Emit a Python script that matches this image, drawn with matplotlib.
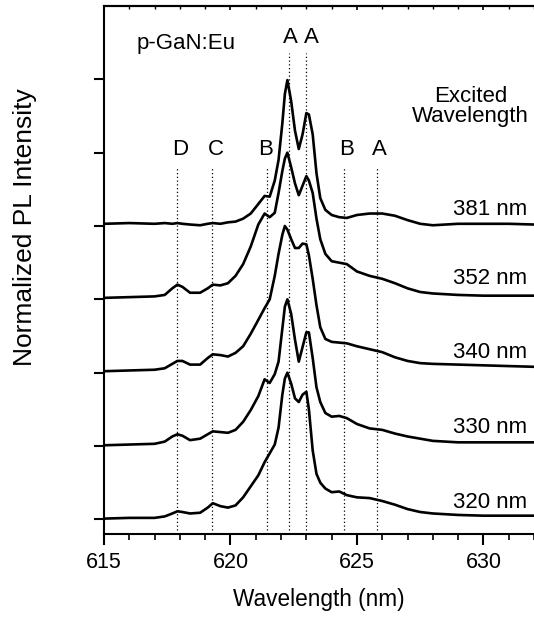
import matplotlib
matplotlib.use("Agg")
import matplotlib.pyplot as plt
from matplotlib.ticker import MultipleLocator

plt.rcParams['font.family'] = ['Liberation Sans', 'DejaVu Sans']

# Wavelength grid (nm)
wavelength = [615.0, 616.0, 617.0, 617.4, 617.7, 617.9, 618.1, 618.4, 618.8, 619.1,
              619.3, 619.6, 619.9, 620.2, 620.5, 620.8, 621.1, 621.35, 621.55, 621.75,
              621.9, 622.05, 622.15, 622.25, 622.4, 622.55, 622.7, 622.85, 623.0, 623.1,
              623.25, 623.4, 623.55, 623.75, 624.0, 624.3, 624.6, 625.0, 625.5, 626.0,
              626.5, 627.0, 627.5, 628.0, 629.0, 630.0, 631.0, 632.0]

# Normalized PL intensity (peak = 2) for each excitation wavelength
pl_320 = [0.01, 0.02, 0.02, 0.04, 0.08, 0.11, 0.10, 0.08, 0.09, 0.16,
          0.22, 0.18, 0.16, 0.19, 0.30, 0.45, 0.60, 0.78, 0.90, 1.02,
          1.25, 1.70, 1.92, 2.00, 1.85, 1.65, 1.60, 1.70, 1.74, 1.50,
          0.94, 0.62, 0.50, 0.42, 0.37, 0.38, 0.33, 0.30, 0.29, 0.25,
          0.20, 0.14, 0.10, 0.08, 0.06, 0.05, 0.05, 0.05]
pl_330 = [0.01, 0.02, 0.03, 0.06, 0.13, 0.16, 0.14, 0.08, 0.10, 0.16,
          0.20, 0.19, 0.18, 0.22, 0.33, 0.49, 0.68, 0.91, 0.86, 0.98,
          1.15, 1.60, 1.90, 2.00, 1.80, 1.45, 1.15, 1.35, 1.55, 1.55,
          1.20, 0.80, 0.60, 0.45, 0.40, 0.41, 0.38, 0.30, 0.24, 0.22,
          0.17, 0.13, 0.10, 0.07, 0.05, 0.05, 0.05, 0.05]
pl_340 = [0.02, 0.03, 0.04, 0.06, 0.12, 0.16, 0.16, 0.11, 0.11, 0.20,
          0.25, 0.24, 0.22, 0.27, 0.36, 0.53, 0.72, 0.88, 1.00, 1.32,
          1.62, 1.88, 2.00, 1.95, 1.82, 1.70, 1.70, 1.76, 1.75, 1.60,
          1.28, 0.92, 0.62, 0.46, 0.42, 0.41, 0.40, 0.36, 0.32, 0.28,
          0.21, 0.16, 0.13, 0.12, 0.11, 0.10, 0.09, 0.08]
pl_352 = [0.02, 0.03, 0.04, 0.06, 0.15, 0.20, 0.17, 0.09, 0.09, 0.15,
          0.20, 0.19, 0.22, 0.32, 0.48, 0.72, 1.02, 1.17, 1.12, 1.18,
          1.45, 1.75, 1.92, 2.00, 1.80, 1.58, 1.42, 1.55, 1.68, 1.62,
          1.45, 1.10, 0.82, 0.62, 0.52, 0.50, 0.48, 0.38, 0.32, 0.28,
          0.22, 0.15, 0.10, 0.08, 0.06, 0.05, 0.05, 0.05]
pl_381 = [0.03, 0.04, 0.03, 0.04, 0.03, 0.04, 0.03, 0.02, 0.01, 0.03,
          0.04, 0.03, 0.05, 0.06, 0.10, 0.17, 0.30, 0.41, 0.40, 0.62,
          0.90, 1.40, 1.80, 1.99, 1.70, 1.30, 1.05, 1.25, 1.54, 1.52,
          1.25, 0.72, 0.38, 0.22, 0.15, 0.12, 0.11, 0.15, 0.17, 0.17,
          0.14, 0.08, 0.03, 0.01, 0.03, 0.03, 0.03, 0.02]

spectra = [pl_320, pl_330, pl_340, pl_352, pl_381]
labels = ["320 nm", "330 nm", "340 nm", "352 nm", "381 nm"]
offsets = [0, 1, 2, 3, 4]
label_dy = [0.15, 0.18, 0.20, 0.21, 0.15]

# Peak markers
upper_marks = [622.3, 623.0]
upper_names = ["A", "A"]
upper_text_x = [622.35, 623.18]
lower_marks = [617.9, 619.25, 621.45, 624.5, 625.8]
lower_names = ["D", "C", "B", "B", "A"]
lower_text_x = [618.02, 619.43, 621.37, 624.57, 625.9]

fig = plt.figure(figsize=(5.34, 6.17), dpi=100)
ax = fig.add_axes([0.1948, 0.1345, 0.8052, 0.8558])

for spec, off in zip(spectra, offsets):
    ax.plot(wavelength, [v + off for v in spec], color='black', lw=1.9,
            solid_joinstyle='round', zorder=3)

for x in upper_marks:
    ax.plot([x, x], [-0.15, 6.36], color='black', lw=0.9, ls=(0, (1, 2)), zorder=2)
for x in lower_marks:
    ax.plot([x, x], [-0.15, 4.79], color='black', lw=0.9, ls=(0, (1, 2)), zorder=2)

fs = 16
for x, n in zip(upper_text_x, upper_names):
    ax.text(x, 6.50, n, ha='center', va='baseline', fontsize=fs)
for x, n in zip(lower_text_x, lower_names):
    ax.text(x, 4.97, n, ha='center', va='baseline', fontsize=fs)

for lab, off, dy in zip(labels, offsets, label_dy):
    ax.text(631.73, off + dy, lab, ha='right', va='baseline', fontsize=fs)

ax.text(616.3, 6.41, "p-GaN:Eu", ha='left', va='baseline', fontsize=fs)
ax.text(629.5, 5.69, "Excited", ha='center', va='baseline', fontsize=fs)
ax.text(629.5, 5.42, "Wavelength", ha='center', va='baseline', fontsize=fs)

ax.set_xlim(615, 632)
ax.set_ylim(-0.2, 7.0)
ax.xaxis.set_major_locator(MultipleLocator(5))
ax.xaxis.set_minor_locator(MultipleLocator(1))
ax.set_yticks([0, 1, 2, 3, 4, 5, 6])
ax.set_yticklabels([])
ax.spines['right'].set_visible(False)
for s in ['left', 'bottom', 'top']:
    ax.spines[s].set_linewidth(1.5)
ax.tick_params(axis='x', which='major', direction='out', length=8, width=1.5,
               labelsize=15.5, pad=5, top=False)
ax.tick_params(axis='x', which='minor', direction='out', length=4.5, width=1.2, top=False)
ax.tick_params(axis='y', which='major', direction='out', length=7, width=1.5)

sec = ax.secondary_xaxis('top')
sec.xaxis.set_major_locator(MultipleLocator(5))
sec.xaxis.set_minor_locator(MultipleLocator(1))
sec.tick_params(which='major', direction='in', length=3, width=1.2, labeltop=False)
sec.tick_params(which='minor', direction='in', length=2, width=1.0)
sec.spines['top'].set_linewidth(1.5)

fig.text(0.597, 0.0276, "Wavelength (nm)", ha='center', va='center', fontsize=16.3)
fig.text(25 / 534, 1 - 227 / 617, "Normalized PL Intensity", ha='center', va='center',
         rotation=90, fontsize=19)

fig.savefig("out.png", dpi=100)
